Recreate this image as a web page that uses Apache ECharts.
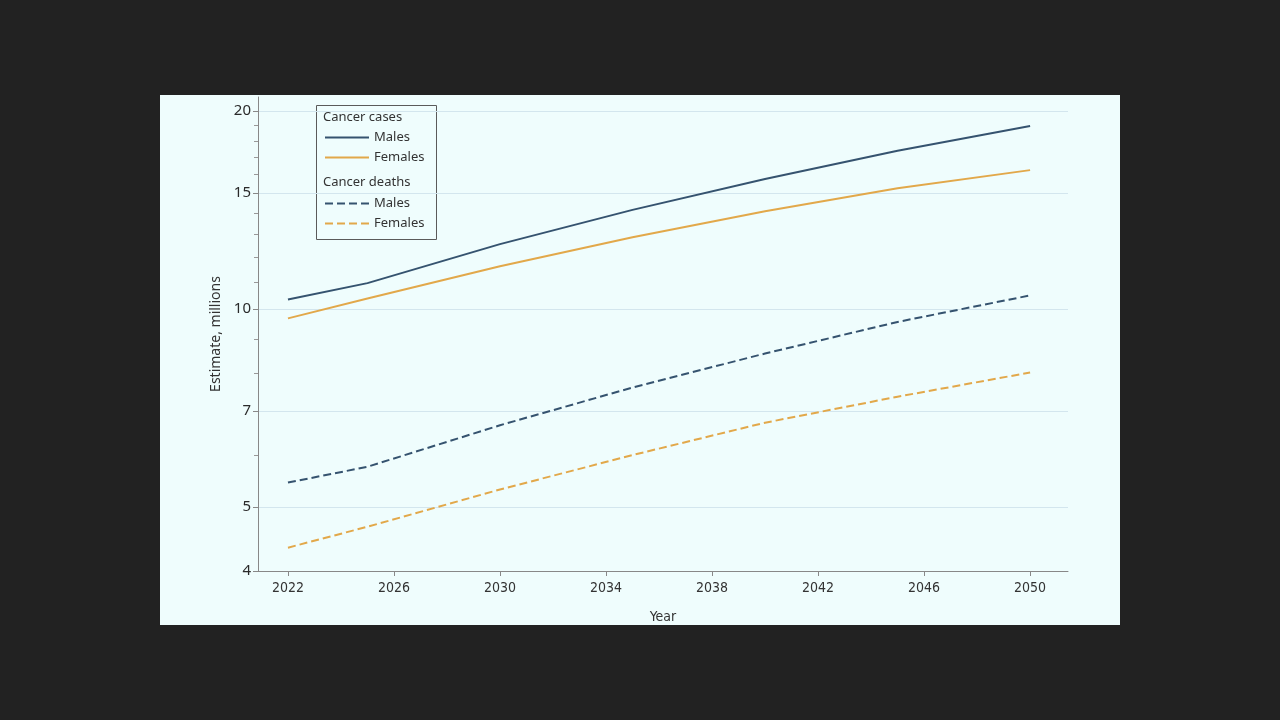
<!DOCTYPE html>
<html lang="en">
<head>
    <meta charset="UTF-8">
    <title>cancer-estimates</title>
    <script src="https://cdn.jsdelivr.net/npm/echarts@6/dist/echarts.min.js"></script>
    <style>
        body { margin: 0; background: #222222; }
        #chart { position: absolute; left: 160px; top: 95px; width: 960px; height: 530px; background: #effdfd; }
    </style>
</head>
<body>
    <div id="chart"></div>
    <script>
        // data
        var years = [2022, 2025, 2030, 2035, 2040, 2045, 2050]
        var casesMales = [10.34, 10.95, 12.55, 14.15, 15.76, 17.40, 18.97]
        var casesFemales = [9.68, 10.38, 11.62, 12.86, 14.08, 15.26, 16.26]
        var deathsMales = [5.45, 5.76, 6.66, 7.60, 8.56, 9.56, 10.49]
        var deathsFemales = [4.34, 4.67, 5.32, 6.00, 6.72, 7.36, 8.01]

        var xTicks = [2022, 2026, 2030, 2034, 2038, 2042, 2046, 2050]
        var yTicks = [4, 5, 7, 10, 15, 20]
        var yMinorTicks = [6, 8, 9, 11, 12, 13, 14, 16, 17, 18, 19]

        var blue = '#35536f'
        var gold = '#e2a84a'
        var font = '"Noto Sans", sans-serif'
        var narrow = '"Liberation Sans Narrow", "DejaVu Sans Condensed", sans-serif'

        function pairs(vals) {
            return years.map(function (y, i) { return [y, vals[i]] })
        }

        function line(name, vals, color, dashed) {
            return {
                name: name,
                type: 'line',
                data: pairs(vals),
                symbol: 'none',
                lineStyle: { color: color, width: 2, type: dashed ? [8, 4] : 'solid' },
                itemStyle: { color: color }
            }
        }

        var chart = echarts.init(document.getElementById('chart'))

        var legendBase = {
            orient: 'vertical', left: 164, padding: 0,
            itemWidth: 44, itemHeight: 14, itemGap: 7,
            itemStyle: { opacity: 0 },
            textStyle: { fontFamily: font, fontSize: 13, color: '#333' },
            formatter: function (n) { return n.split(' ')[1] }
        }

        var option = {
            animation: false,
            textStyle: { fontFamily: font },
            grid: { left: 98, right: 52, top: 2, bottom: 54, containLabel: false, outerBoundsMode: 'none' },
            graphic: [
                { type: 'rect', left: 154, top: 8, shape: { width: 120, height: 134 },
                  style: { fill: 'none', stroke: '#5a5a5a', lineWidth: 1 } },
                { type: 'text', left: 163, top: 16, style: { text: 'Cancer cases', font: '13px ' + font, fill: '#333' } },
                { type: 'text', left: 163, top: 81, style: { text: 'Cancer deaths', font: '13px ' + font, fill: '#333' } }
            ],
            legend: [
                Object.assign({}, legendBase, { data: ['cases Males', 'cases Females'], top: 36 }),
                Object.assign({}, legendBase, { data: ['deaths Males', 'deaths Females'], top: 102 })
            ],
            xAxis: {
                type: 'value',
                min: 2020.87, max: 2051.43,
                name: 'Year', nameLocation: 'middle', nameGap: 39,
                nameTextStyle: { fontFamily: narrow, fontSize: 14, color: '#333' },
                axisLine: { lineStyle: { color: '#888' } },
                axisTick: { customValues: xTicks, length: 5, lineStyle: { color: '#888' } },
                axisLabel: {
                    customValues: xTicks, margin: 10,
                    fontFamily: narrow, fontSize: 14, color: '#333',
                    formatter: function (v) { return String(v) }
                },
                splitLine: { show: false }
            },
            yAxis: [
                {
                    type: 'log', logBase: 10,
                    min: 4, max: 21,
                    name: 'Estimate, millions', nameLocation: 'middle', nameGap: 31,
                    nameTextStyle: { fontFamily: font, fontSize: 14, color: '#333' },
                    axisLine: { show: true, lineStyle: { color: '#888' } },
                    axisTick: { show: true, customValues: yTicks, length: 5, lineStyle: { color: '#888' } },
                    axisLabel: { customValues: yTicks, fontFamily: font, fontSize: 15, color: '#2a2a2a', margin: 7 },
                    splitLine: { show: true, lineStyle: { color: '#d3e6ee', width: 1 } }
                },
                {
                    // minor ticks only
                    type: 'log', logBase: 10,
                    min: 4, max: 21,
                    position: 'left',
                    axisLine: { show: false },
                    axisTick: { show: true, customValues: yMinorTicks, length: 4, lineStyle: { color: '#999' } },
                    axisLabel: { show: false },
                    splitLine: { show: false }
                }
            ],
            series: [
                line('cases Males', casesMales, blue, false),
                line('cases Females', casesFemales, gold, false),
                line('deaths Males', deathsMales, blue, true),
                line('deaths Females', deathsFemales, gold, true)
            ]
        }

        chart.setOption(option)
    </script>
</body>
</html>
